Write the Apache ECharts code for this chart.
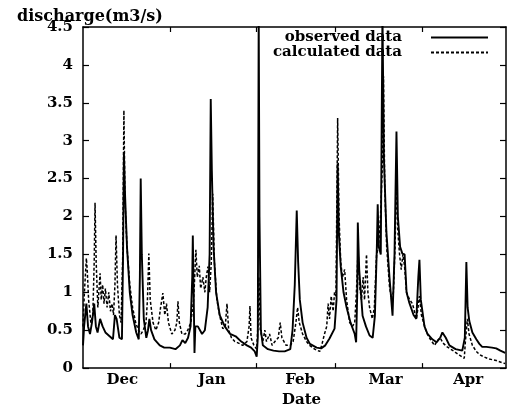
<!DOCTYPE html>
<html><head><meta charset="utf-8">
<script src="https://cdn.jsdelivr.net/npm/echarts@6/dist/echarts.min.js"></script>
<style>html,body{margin:0;padding:0;background:#fff}#c{width:507px;height:413px}</style>
</head><body><div id="c"></div>
<script>
// x = days since 1 Dec, y = discharge (m3/s)
const monthNames = ['Dec', 'Jan', 'Feb', 'Mar', 'Apr'];
const monthLabelPos = [14, 46, 77.5, 108, 137.5];
const monthStarts = [31, 62, 90, 121];
const yTicks = [0, 0.5, 1, 1.5, 2, 2.5, 3, 3.5, 4, 4.5];

const observed = [[0,0.3],[0.4,0.55],[1.2,0.85],[1.8,0.55],[2.5,0.45],[3.2,0.6],[4.0,0.85],[4.6,0.55],[5.2,0.47],[6.1,0.65],[7.0,0.55],[8.0,0.47],[9.5,0.42],[10.7,0.38],[11.4,0.7],[12.0,0.65],[13.0,0.4],[13.9,0.38],[14.3,1.5],[14.6,2.85],[15.0,2.3],[15.7,1.6],[16.7,1.0],[17.7,0.7],[19.0,0.47],[19.9,0.38],[20.3,1.2],[20.6,2.5],[21.0,1.5],[21.7,0.65],[22.6,0.4],[23.2,0.5],[23.7,0.65],[24.3,0.5],[25.5,0.38],[27.4,0.3],[29,0.27],[31,0.27],[33,0.25],[34.6,0.3],[35.5,0.37],[36.5,0.33],[37.5,0.4],[38.4,0.55],[39.0,1.2],[39.2,1.75],[39.5,1.0],[39.8,0.2],[40.1,0.55],[41,0.55],[42.5,0.45],[43.5,0.5],[44.5,0.8],[45.2,1.5],[45.6,3.55],[46.0,2.6],[46.6,1.6],[47.5,1.0],[48.8,0.7],[50.6,0.55],[52.5,0.45],[54.5,0.42],[56.5,0.35],[58.5,0.3],[60,0.27],[61.3,0.22],[62.0,0.15],[62.4,0.4],[62.72,4.7],[63.0,2.0],[63.5,0.5],[64.2,0.3],[66,0.25],[68,0.23],[70,0.22],[72,0.22],[74,0.25],[74.8,0.5],[75.6,1.1],[76.3,2.08],[76.8,1.4],[77.4,0.9],[78.4,0.6],[79.8,0.4],[81,0.32],[83.4,0.27],[85,0.26],[86.5,0.3],[88,0.39],[89.8,0.52],[90.5,0.9],[90.9,2.7],[91.3,1.8],[92,1.34],[93,1.0],[94.1,0.8],[95.5,0.6],[97,0.45],[97.5,0.34],[97.9,1.0],[98.1,1.92],[98.6,1.3],[99.8,0.69],[101,0.55],[102.3,0.43],[103.4,0.4],[104.2,0.69],[104.9,1.6],[105.2,2.16],[105.6,1.6],[106.3,1.5],[106.9,4.7],[107.4,2.8],[108.3,1.8],[109.4,1.2],[110.5,0.69],[111.2,1.5],[111.9,3.12],[112.4,2.0],[113.2,1.6],[114.0,1.51],[114.8,1.5],[115.5,1.0],[116.5,0.86],[118,0.7],[119.0,0.65],[119.7,1.2],[120.1,1.43],[120.6,0.9],[121.9,0.55],[123,0.45],[124.7,0.38],[126.2,0.34],[127.5,0.4],[128.3,0.47],[129.5,0.4],[130.8,0.3],[133,0.25],[135.4,0.23],[136.3,0.4],[136.85,1.4],[137.3,0.8],[137.9,0.62],[139,0.47],[140.4,0.38],[141.5,0.32],[142.5,0.28],[144,0.28],[146,0.27],[147.5,0.26],[149,0.23],[150.7,0.2]];

const calculated = [[0,0.55],[0.5,1.0],[1.2,1.45],[1.5,1.3],[2.0,0.9],[2.8,0.6],[3.5,0.7],[4.0,1.4],[4.3,2.18],[4.7,1.4],[5.3,0.8],[5.8,0.8],[6.1,1.25],[6.5,0.9],[7.0,1.1],[7.5,0.85],[8.0,1.05],[8.6,0.8],[9.2,1.0],[9.8,0.75],[10.4,0.85],[10.9,0.7],[11.4,1.1],[11.8,1.75],[12.3,1.1],[13.0,0.7],[13.6,0.6],[14.2,1.5],[14.6,3.4],[15.0,2.2],[15.7,1.6],[16.7,1.1],[17.7,0.8],[18.8,0.6],[19.8,0.5],[20.7,0.45],[21.5,0.5],[22.5,0.6],[23.0,0.9],[23.5,1.51],[24.0,0.9],[25.0,0.6],[26.0,0.5],[27.0,0.6],[27.7,0.8],[28.5,0.99],[29.2,0.7],[29.8,0.85],[30.5,0.6],[31.7,0.45],[32.8,0.5],[33.5,0.6],[33.9,0.88],[34.4,0.6],[35.3,0.45],[36.5,0.45],[37.4,0.5],[38.5,0.6],[39.5,0.9],[40.3,1.56],[40.8,1.2],[41.5,1.35],[42.0,1.05],[42.8,1.2],[43.5,1.0],[44.0,1.2],[44.6,1.34],[45.2,1.0],[45.8,1.4],[46.3,2.3],[46.9,1.4],[47.8,0.9],[48.8,0.69],[49.9,0.52],[50.8,0.55],[51.4,0.85],[52.0,0.5],[53.0,0.4],[54.2,0.35],[55.5,0.33],[57,0.3],[58.5,0.35],[59.3,0.55],[59.6,0.82],[60.0,0.4],[61.0,0.3],[62.0,0.25],[62.5,0.6],[62.8,1.2],[63.3,0.5],[64.2,0.35],[64.9,0.5],[65.5,0.35],[66.6,0.45],[67.5,0.3],[68.5,0.35],[69.7,0.4],[70.4,0.6],[71.0,0.4],[72.5,0.3],[74.0,0.3],[75.0,0.35],[76.0,0.6],[76.6,0.8],[77.2,0.6],[78.4,0.45],[79.8,0.35],[80.9,0.3],[82.7,0.25],[84.5,0.22],[85.2,0.3],[86.2,0.45],[87.0,0.55],[87.5,0.85],[88.0,0.65],[88.6,0.95],[89.3,0.75],[89.8,1.0],[90.3,0.95],[90.9,3.3],[91.4,2.0],[92.0,1.4],[92.6,1.2],[93.4,1.3],[94.1,0.9],[95.2,0.6],[96.2,0.55],[97.0,0.6],[97.6,1.0],[98.2,1.56],[98.7,1.1],[99.4,0.9],[100.0,1.2],[100.5,0.9],[101.2,1.5],[101.7,1.0],[102.3,0.8],[103.3,0.65],[104.0,0.8],[104.8,1.5],[105.5,1.6],[106.2,2.0],[106.8,2.6],[107.27,3.85],[107.7,2.4],[108.4,1.6],[109.4,1.08],[110.1,0.91],[110.8,1.0],[111.4,1.6],[111.9,2.5],[112.4,1.8],[113.0,1.5],[113.6,1.3],[114.2,1.5],[114.8,1.34],[115.5,1.0],[116.5,0.91],[117.6,0.85],[119.0,0.65],[119.6,0.8],[120.1,0.95],[120.8,0.7],[122.6,0.47],[124.0,0.38],[125.5,0.3],[126.5,0.36],[127.5,0.4],[128.5,0.33],[130.0,0.28],[132.5,0.22],[134.4,0.17],[136.1,0.13],[136.5,0.35],[137.2,0.65],[137.8,0.45],[139.0,0.3],[140.4,0.22],[141.5,0.18],[143.0,0.15],[145,0.12],[147.5,0.1],[149.7,0.07],[150.7,0.06]];

const FONT = '"DejaVu Serif", serif';
const chart = echarts.init(document.getElementById('c'), null, {renderer: 'canvas'});
const labelMap = {};
monthLabelPos.forEach((p, i) => { labelMap[p] = monthNames[i]; });
const axisLineStyle = {color: '#000', width: 1.5};
chart.setOption({
  animation: false,
  backgroundColor: '#fff',
  title: {text: 'discharge(m3/s)', left: 12, top: 4,
    textStyle: {fontFamily: FONT, fontWeight: 'bold', fontSize: 16, color: '#000'}},
  legend: {
    orient: 'vertical', right: 18, top: 30, padding: 0, align: 'right',
    itemWidth: 57, itemHeight: 10, itemGap: 0,
    itemStyle: {opacity: 0},
    textStyle: {fontFamily: FONT, fontWeight: 'bold', fontSize: 15, color: '#000', lineHeight: 11, padding: [0, 24, 0, 0]},
    data: ['observed data', 'calculated data']
  },
  grid: {left: 83, right: 1, top: 27, bottom: 39, containLabel: false},
  xAxis: [{
    type: 'value', min: 0, max: 151, position: 'bottom',
    name: 'Date', nameLocation: 'middle', nameGap: 24,
    nameTextStyle: {fontFamily: FONT, fontWeight: 'bold', fontSize: 15, color: '#000', padding: [0, 0, 0, 14]},
    axisLine: {show: true, onZero: false, lineStyle: axisLineStyle},
    axisTick: {show: true, inside: true, length: 5, customValues: monthStarts, lineStyle: {color: '#000', width: 1.2}},
    axisLabel: {customValues: monthLabelPos, margin: 5, formatter: v => labelMap[v] || '',
      fontFamily: FONT, fontWeight: 'bold', fontSize: 15, color: '#000'},
    splitLine: {show: false}
  }, {
    type: 'value', min: 0, max: 151, position: 'top',
    axisLine: {show: true, onZero: false, lineStyle: axisLineStyle},
    axisTick: {show: true, inside: true, length: 5, customValues: monthStarts, lineStyle: {color: '#000', width: 1.2}},
    axisLabel: {show: false}, splitLine: {show: false}
  }],
  yAxis: [{
    type: 'value', min: 0, max: 4.5, interval: 0.5, position: 'left',
    axisLine: {show: true, onZero: false, lineStyle: axisLineStyle},
    axisTick: {show: true, inside: true, length: 6, lineStyle: {color: '#000', width: 1.2}},
    axisLabel: {margin: 10, fontFamily: FONT, fontWeight: 'bold', fontSize: 15, color: '#000',
      customValues: yTicks},
    splitLine: {show: false}
  }, {
    type: 'value', min: 0, max: 4.5, interval: 0.5, position: 'right',
    axisLine: {show: true, onZero: false, lineStyle: axisLineStyle},
    axisTick: {show: true, inside: true, length: 6, lineStyle: {color: '#000', width: 1.2}},
    axisLabel: {show: false}, splitLine: {show: false}
  }],
  series: [{
    name: 'observed data', type: 'line', data: observed, xAxisIndex: 0, yAxisIndex: 0,
    showSymbol: false, symbol: 'none', clip: true,
    lineStyle: {color: '#000', width: 1.9, type: 'solid'}, itemStyle: {color: '#000'}
  }, {
    name: 'calculated data', type: 'line', data: calculated, xAxisIndex: 0, yAxisIndex: 0,
    showSymbol: false, symbol: 'none', clip: true,
    lineStyle: {color: '#000', width: 1.5, type: [3, 2]}, itemStyle: {color: '#000'}
  }]
});
</script></body></html>
